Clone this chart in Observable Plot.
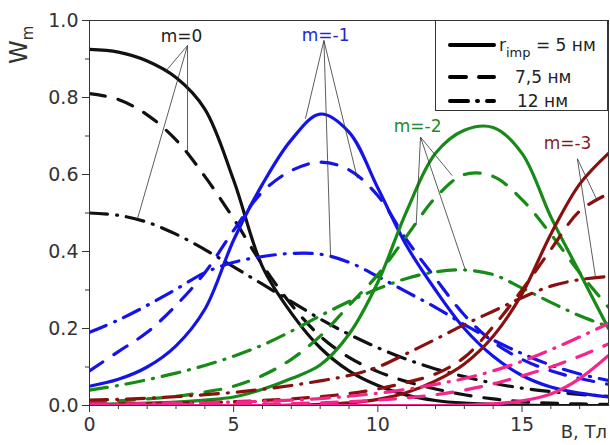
<!DOCTYPE html>
<html><head><meta charset="utf-8">
<script src="https://cdn.jsdelivr.net/npm/d3@7"></script>
<script src="https://cdn.jsdelivr.net/npm/@observablehq/plot@0.6"></script>
<style>
body{margin:0;background:#fff}
#chart{position:relative;width:610px;height:445px}
</style>
</head><body><div id="chart"></div>
<script>
// ---- data ----
const B = [0,1,2,3,4,5,6,7,8,9,10,11,12,13,14,15,16,17,18];
// m = 0
const m0_r5  = [0.925,0.918,0.895,0.852,0.770,0.585,0.360,0.240,0.150,0.090,0.052,0.027,0.013,0.006,0.003,0.001,0,0,0];
const m0_r75 = [0.810,0.795,0.755,0.690,0.595,0.485,0.365,0.262,0.180,0.125,0.088,0.062,0.043,0.028,0.017,0.010,0.006,0.004,0.003];
const m0_r12 = [0.500,0.494,0.476,0.445,0.405,0.360,0.315,0.270,0.225,0.185,0.150,0.120,0.095,0.075,0.058,0.045,0.036,0.029,0.024];
// m = -1
const m1_r5  = [0.050,0.068,0.100,0.155,0.250,0.430,0.575,0.690,0.757,0.710,0.565,0.415,0.300,0.200,0.128,0.078,0.048,0.032,0.022];
const m1_r75 = [0.090,0.140,0.190,0.260,0.345,0.455,0.555,0.610,0.632,0.612,0.545,0.430,0.330,0.235,0.165,0.120,0.090,0.070,0.055];
const m1_r12 = [0.190,0.222,0.260,0.302,0.345,0.372,0.387,0.395,0.393,0.372,0.335,0.295,0.255,0.210,0.170,0.135,0.105,0.082,0.065];
// m = -2
const m2_r5  = [0.003,0.004,0.006,0.009,0.014,0.022,0.042,0.070,0.105,0.185,0.320,0.505,0.655,0.715,0.722,0.655,0.490,0.345,0.200];
const m2_r75 = [0.010,0.012,0.017,0.024,0.035,0.050,0.078,0.120,0.180,0.260,0.340,0.440,0.540,0.600,0.595,0.535,0.445,0.345,0.255];
const m2_r12 = [0.040,0.052,0.067,0.084,0.104,0.128,0.157,0.193,0.233,0.270,0.303,0.330,0.347,0.352,0.340,0.305,0.268,0.233,0.205];
// m = -3
const m3_r5  = [0,0,0,0,0,0,0,0.001,0.003,0.007,0.016,0.034,0.064,0.108,0.180,0.290,0.445,0.575,0.655];
const m3_r75 = [0.004,0.004,0.005,0.006,0.008,0.010,0.013,0.017,0.023,0.031,0.043,0.060,0.082,0.125,0.205,0.300,0.405,0.505,0.550];
const m3_r12 = [0.014,0.016,0.019,0.023,0.028,0.034,0.042,0.052,0.064,0.078,0.100,0.135,0.172,0.210,0.245,0.280,0.310,0.327,0.335];
// m = -4
const m4_r5  = [0,0,0,0,0,0,0,0,0,0,0,0,0,0.001,0.004,0.012,0.030,0.070,0.130];
const m4_r75 = [0.001,0.001,0.001,0.002,0.002,0.003,0.004,0.005,0.007,0.010,0.014,0.020,0.028,0.040,0.056,0.077,0.100,0.128,0.160];
const m4_r12 = [0.004,0.004,0.005,0.006,0.007,0.009,0.011,0.014,0.018,0.024,0.032,0.042,0.055,0.070,0.090,0.115,0.145,0.178,0.213];

const xTicks = [0,5,10,15];
const xMinor = [1,2,3,4,6,7,8,9,11,12,13,14,16,17];
const yTicks = [0,0.2,0.4,0.6,0.8,1.0];
const yMinor = [0.1,0.3,0.5,0.7,0.9];

const labelText = ["m=0","m=-1","m=-2","m=-3"];
const labelX = [3.19, 8.19, 11.38, 16.58];
const labelY = [0.958, 0.961, 0.725, 0.680];

// leader lines: apex -> curve
const leaderX1 = [3.40,3.40,3.40, 8.13,8.13,8.13, 11.48,11.48,11.48, 16.92,16.92];
const leaderY1 = [0.935,0.935,0.935, 0.948,0.948,0.948, 0.697,0.697,0.697, 0.641,0.641];
const leaderX2 = [2.64,3.40,1.66, 7.49,8.36,9.29, 11.33,12.58,13.04, 17.61,17.55];
const leaderY2 = [0.868,0.660,0.484, 0.745,0.388,0.590, 0.470,0.597,0.351, 0.532,0.333];

const legendLabels = ["5 нм","7,5 нм","12 нм"];

// ---- styles ----
const colors = {"0":"#111111","-1":"#1414e8","-2":"#178a17","-3":"#8a1010","-4":"#f7248c"};
const labelColors = ["#222222","#2424d8","#238a23","#8a1a1a"];
const dash = {"5":null,"7.5":"16,13","12":"18,9,1,9"};

const series = [
  ["0","5",m0_r5],["0","7.5",m0_r75],["0","12",m0_r12],
  ["-1","5",m1_r5],["-1","7.5",m1_r75],["-1","12",m1_r12],
  ["-2","5",m2_r5],["-2","7.5",m2_r75],["-2","12",m2_r12],
  ["-3","5",m3_r5],["-3","7.5",m3_r75],["-3","12",m3_r12],
  ["-4","5",m4_r5],["-4","7.5",m4_r75],["-4","12",m4_r12]
];

const lineMarks = series.map(([m,r,vals]) => Plot.line(
  vals.map((v,i)=>({B:B[i],W:v})),
  {x:"B", y:"W", stroke:colors[m], strokeWidth:3.2, strokeDasharray:dash[r],
   curve:"catmull-rom", strokeLinecap:"round", clip:true}
));

const labels = labelText.map((t,i)=>({t, x:labelX[i], y:labelY[i], c:labelColors[i]}));
const leaders = leaderX1.map((_,i)=>({x1:leaderX1[i],y1:leaderY1[i],x2:leaderX2[i],y2:leaderY2[i]}));

const W = 610, H = 445;
const chart = Plot.plot({
  width: W, height: H,
  marginLeft: 89, marginRight: 2, marginTop: 20, marginBottom: 40,
  style: {fontFamily: "'DejaVu Sans', sans-serif", fontSize: "19px", color: "#333", background: "#fff"},
  x: {domain: [0,18], label: null},
  y: {domain: [0,1], label: null},
  marks: [
    ...lineMarks,
    Plot.link(leaders, {x1:"x1", y1:"y1", x2:"x2", y2:"y2", stroke:"#333", strokeWidth:0.8}),
    Plot.text(labels, {x:"x", y:"y", text:"t", fill:"c", fontSize:17, fontFamily:"'DejaVu Sans', sans-serif"}),
    Plot.frame({stroke:"#333", strokeWidth:1}),
    Plot.axisX(xTicks, {tickSize:7, tickPadding:5, stroke:"#333", fill:"#333"}),
    Plot.axisX(xMinor, {tickSize:4, text:null, stroke:"#333"}),
    Plot.axisY(yTicks, {tickSize:7, tickPadding:4, tickFormat:d3.format(".1f"), stroke:"#333", fill:"#333"}),
    Plot.axisY(yMinor, {tickSize:4, text:null, stroke:"#333"})
  ]
});
document.getElementById("chart").appendChild(chart);

const svg = d3.select(chart);
const ff = "'DejaVu Sans', sans-serif";
// Y axis title W_m
const yt = svg.append("text").attr("transform","translate(27,64) rotate(-90)")
  .attr("text-anchor","start")
  .attr("font-family",ff).attr("font-size",24).attr("fill","#333");
yt.append("tspan").text("W");
yt.append("tspan").attr("font-size",15).attr("dy",6).text("m");
// X axis title
svg.append("text").attr("x",607).attr("y",438).attr("text-anchor","end")
  .attr("font-family",ff).attr("font-size",18).attr("fill","#333").text("В, Тл");

// legend
const lg = svg.append("g");
lg.append("rect").attr("x",435.5).attr("y",20.5).attr("width",172).attr("height",90)
  .attr("fill","#fff").attr("stroke","#333").attr("stroke-width",1);
const legendDash = [null,"16,13","18,9,1,9"];
const rowsY = [45,77,101];
legendDash.forEach((d,i)=>{
  lg.append("line").attr("x1",450).attr("x2",494).attr("y1",rowsY[i]).attr("y2",rowsY[i])
    .attr("stroke","#000").attr("stroke-width",4).attr("stroke-linecap","round")
    .attr("stroke-dasharray",d);
});
const t0 = lg.append("text").attr("x",499).attr("y",51).attr("text-anchor","start")
  .attr("font-family",ff).attr("font-size",17).attr("fill","#222");
t0.append("tspan").text("r");
t0.append("tspan").attr("font-size",13).attr("dy",6).text("imp");
t0.append("tspan").attr("dy",-6).text(" = " + legendLabels[0]);
lg.append("text").attr("x",515).attr("y",83).attr("text-anchor","start").attr("font-family",ff).attr("font-size",17).attr("fill","#222").text(legendLabels[1]);
lg.append("text").attr("x",517).attr("y",107).attr("text-anchor","start").attr("font-family",ff).attr("font-size",17).attr("fill","#222").text(legendLabels[2]);
</script>
</body></html>
